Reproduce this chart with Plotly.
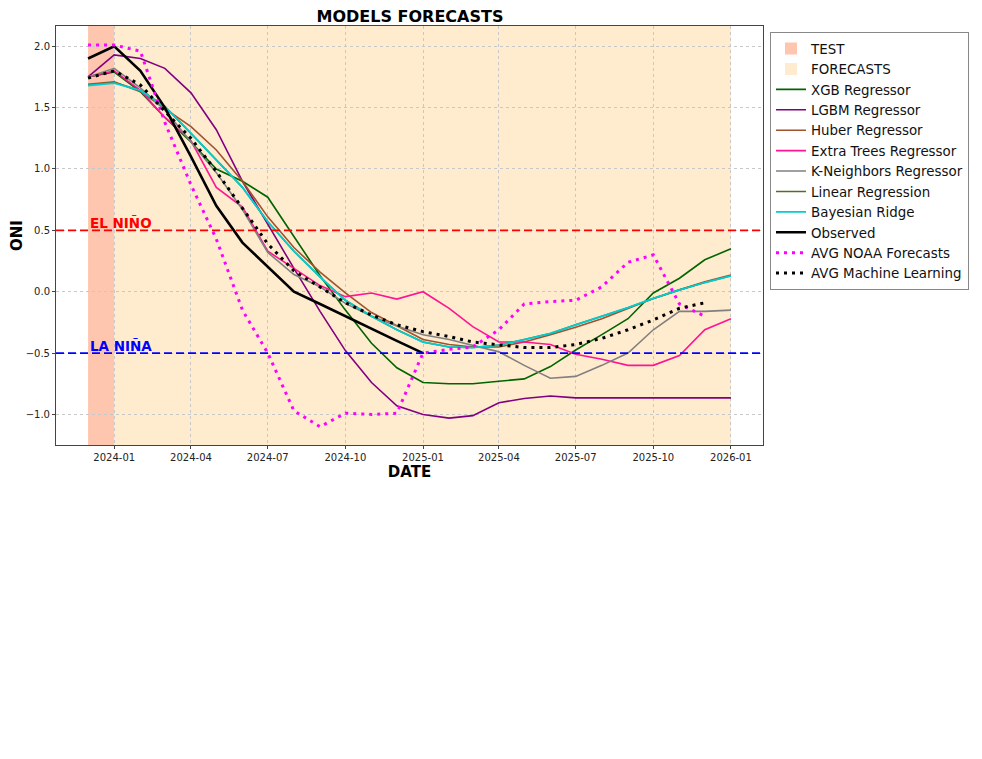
import plotly.graph_objects as go

# ---------------- data ----------------
dates = ["2023-12-01", "2024-01-01", "2024-02-01", "2024-03-01", "2024-04-01", "2024-05-01",
         "2024-06-01", "2024-07-01", "2024-08-01", "2024-09-01", "2024-10-01", "2024-11-01",
         "2024-12-01", "2025-01-01", "2025-02-01", "2025-03-01", "2025-04-01", "2025-05-01",
         "2025-06-01", "2025-07-01", "2025-08-01", "2025-09-01", "2025-10-01", "2025-11-01",
         "2025-12-01", "2026-01-01"]

xgb = [1.75, 1.79, 1.63, 1.42, 1.22, 1.00, 0.90, 0.77, 0.45, 0.13, -0.15, -0.42, -0.62,
       -0.74, -0.75, -0.75, -0.73, -0.71, -0.61, -0.475, -0.35, -0.22, -0.01, 0.11, 0.26, 0.35]
lgbm = [1.75, 1.93, 1.90, 1.82, 1.62, 1.32, 0.90, 0.55, 0.19, -0.16, -0.48, -0.74, -0.93,
        -1.00, -1.03, -1.01, -0.905, -0.87, -0.85, -0.865, -0.865, -0.865, -0.865, -0.865, -0.865, -0.865]
huber = [1.69, 1.71, 1.63, 1.49, 1.345, 1.155, 0.90, 0.61, 0.36, 0.16, -0.01, -0.17, -0.28,
         -0.39, -0.43, -0.45, -0.45, -0.41, -0.35, -0.29, -0.22, -0.135, -0.055, 0.015, 0.08, 0.135]
extra_trees = [1.75, 1.80, 1.64, 1.42, 1.23, 0.85, 0.69, 0.33, 0.19, 0.05, -0.04, -0.01, -0.06,
               0.0, -0.135, -0.285, -0.41, -0.41, -0.43, -0.51, -0.55, -0.60, -0.60, -0.52, -0.31, -0.22]
kneighbors = [1.75, 1.82, 1.66, 1.48, 1.22, 0.97, 0.67, 0.32, 0.14, 0.04, -0.095, -0.20, -0.28,
              -0.35, -0.39, -0.435, -0.49, -0.60, -0.705, -0.69, -0.60, -0.50, -0.31, -0.16, -0.16, -0.15]
linear_reg = [1.685, 1.705, 1.64, 1.51, 1.29, 1.07, 0.85, 0.57, 0.33, 0.12, -0.07, -0.20, -0.31,
              -0.41, -0.45, -0.455, -0.435, -0.39, -0.34, -0.27, -0.20, -0.13, -0.055, 0.015, 0.075, 0.13]
bayes_ridge = [1.68, 1.70, 1.64, 1.51, 1.29, 1.07, 0.85, 0.57, 0.33, 0.12, -0.07, -0.20, -0.31,
               -0.41, -0.45, -0.455, -0.435, -0.39, -0.34, -0.27, -0.20, -0.13, -0.055, 0.015, 0.075, 0.13]
observed = [1.9, 2.0, 1.8, 1.5, 1.1, 0.7, 0.4, 0.2, 0.0, -0.1, -0.2, -0.3, -0.4, -0.5]
noaa_avg = [2.01, 2.01, 1.96, 1.38, 0.87, 0.43, -0.15, -0.50, -0.97, -1.10, -0.99, -1.00, -0.99,
            -0.50, -0.47, -0.45, -0.31, -0.10, -0.08, -0.07, 0.04, 0.24, 0.30, -0.10, -0.20]
ml_avg = [1.74, 1.80, 1.685, 1.47, 1.25, 0.98, 0.68, 0.39, 0.17, 0.04, -0.09, -0.19, -0.27,
          -0.325, -0.365, -0.41, -0.435, -0.455, -0.455, -0.43, -0.38, -0.31, -0.23, -0.135, -0.09]

test_span = ["2023-12-01", "2024-01-01"]
forecast_span = ["2024-01-01", "2026-01-01"]
el_nino_level = 0.5
la_nina_level = -0.5
y_ticks = [-1.0, -0.5, 0.0, 0.5, 1.0, 1.5, 2.0]

FONT = "DejaVu Sans"

series = [
    ("XGB Regressor", xgb, "#006400", 1.6, "solid"),
    ("LGBM Regressor", lgbm, "#800080", 1.6, "solid"),
    ("Huber Regressor", huber, "#A0522D", 1.6, "solid"),
    ("Extra Trees Regressor", extra_trees, "#FF1493", 1.6, "solid"),
    ("K-Neighbors Regressor", kneighbors, "#808080", 1.6, "solid"),
    ("Linear Regression", linear_reg, "#556B2F", 1.6, "solid"),
    ("Bayesian Ridge", bayes_ridge, "#00CED1", 1.8, "solid"),
    ("Observed", observed, "#000000", 2.6, "solid"),
    ("AVG NOAA Forecasts", noaa_avg, "#FF00FF", 3.0, "3px,5px"),
    ("AVG Machine Learning", ml_avg, "#000000", 3.0, "3px,5px"),
]

fig = go.Figure()
for i, (name, vals, color, width, dash) in enumerate(series):
    fig.add_trace(go.Scatter(
        x=dates[:len(vals)], y=vals, mode="lines", name=name,
        line=dict(color=color, width=width, dash=dash),
        legendrank=10 + i,
    ))

fig.add_shape(type="rect", xref="x", yref="paper", x0=test_span[0], x1=test_span[1], y0=0, y1=1,
              fillcolor="rgba(255,160,122,0.6)", line=dict(width=0), layer="below",
              showlegend=True, name="TEST", legendrank=1)
fig.add_shape(type="rect", xref="x", yref="paper", x0=forecast_span[0], x1=forecast_span[1], y0=0, y1=1,
              fillcolor="rgba(255,222,173,0.6)", line=dict(width=0), layer="below",
              showlegend=True, name="FORECASTS", legendrank=2)

fig.add_shape(type="line", xref="paper", yref="y", x0=0, x1=1, y0=el_nino_level, y1=el_nino_level,
              line=dict(color="#FF0000", width=1.8, dash="8px,4px"))
fig.add_shape(type="line", xref="paper", yref="y", x0=0, x1=1, y0=la_nina_level, y1=la_nina_level,
              line=dict(color="#0000FF", width=1.8, dash="8px,4px"))

fig.add_annotation(x=test_span[0], y=el_nino_level, xref="x", yref="y", text="<b>EL NIÑO</b>",
                   showarrow=False, xanchor="left", yanchor="bottom", yshift=-3,
                   font=dict(family=FONT, size=13.5, color="#FF0000"))
fig.add_annotation(x=test_span[0], y=la_nina_level, xref="x", yref="y", text="<b>LA NIÑA</b>",
                   showarrow=False, xanchor="left", yanchor="bottom", yshift=-3,
                   font=dict(family=FONT, size=13.5, color="#0000FF"))

# page body has an 8px margin: figure is sized/placed to compensate
W, H = 974, 751
fig.update_layout(
    width=W, height=H,
    margin=dict(l=48, r=219, t=18, b=314, autoexpand=False),
    paper_bgcolor="white", plot_bgcolor="white",
    font=dict(family=FONT, color="#222222"),
    title=dict(text="<b>MODELS FORECASTS</b>", x=402 / W, xanchor="center",
               y=1 - 8 / H, yanchor="middle", yref="container",
               font=dict(family=FONT, size=16, color="black")),
    showlegend=True,
    legend=dict(x=1.0099, y=0.985, xanchor="left", yanchor="top",
                bordercolor="#888888", borderwidth=1, bgcolor="white",
                font=dict(family=FONT, size=13.4, color="#111111"),
                tracegroupgap=0, itemwidth=30),
)

fig.update_xaxes(
    range=["2023-10-24", "2026-02-08"], type="date", automargin=False,
    tick0="2024-01-01", dtick="M3", tickformat="%Y-%m",
    showgrid=True, gridcolor="#c8c8c8", griddash="dot", gridwidth=0.8,
    showline=True, linecolor="#444444", linewidth=1, mirror=True,
    ticks="outside", ticklen=3, tickcolor="#444444",
    tickfont=dict(family=FONT, size=10, color="#222222"),
    title=dict(text="<b>DATE</b>", font=dict(family=FONT, size=15, color="black"), standoff=4),
    zeroline=False,
)
fig.update_yaxes(
    range=[-1.249, 2.165], tickvals=y_ticks, tickformat=".1f", automargin=False,
    showgrid=True, gridcolor="#c8c8c8", griddash="dot", gridwidth=0.8,
    showline=True, linecolor="#444444", linewidth=1, mirror=True,
    ticks="outside", ticklen=3, tickcolor="#444444",
    tickfont=dict(family=FONT, size=10, color="#222222"),
    title=dict(text="<b>ONI</b>", font=dict(family=FONT, size=15, color="black"), standoff=10),
    zeroline=False,
)

fig.write_html("out.html")
